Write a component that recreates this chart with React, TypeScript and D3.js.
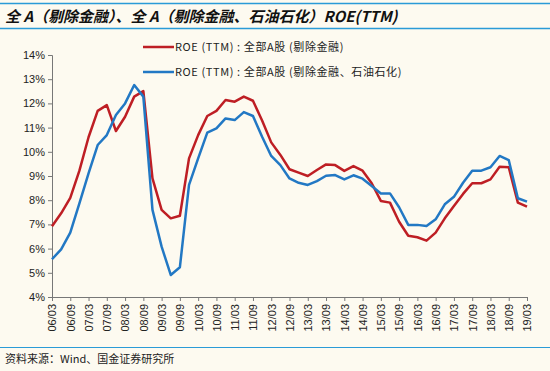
import React, { useEffect, useRef } from 'react';
import * as d3 from 'd3';

// 季度时间点 06/03 ... 19/03
const years = d3.range(6, 20);
const quarters = ['03', '06', '09', '12'];
const periods: string[] = years.flatMap(y => quarters.map(q => `${String(y).padStart(2, '0')}/${q}`)).slice(0, 53);

// 全部A股(剔除金融)
const roeExFin = [
  6.92, 7.46, 8.1, 9.22, 10.6, 11.69, 11.93, 10.86, 11.45, 12.28,
  12.51, 8.9, 7.6, 7.25, 7.36, 9.73, 10.69, 11.48, 11.69, 12.14,
  12.07, 12.28, 12.11, 11.29, 10.39, 9.87, 9.28, 9.14, 9.0, 9.25,
  9.48, 9.45, 9.21, 9.41, 9.22, 8.7, 7.97, 7.9, 7.11, 6.53,
  6.47, 6.33, 6.66, 7.25, 7.76, 8.26, 8.7, 8.7, 8.86, 9.38,
  9.36, 7.9, 7.73,
];

// 全部A股(剔除金融、石油石化)
const roeExFinPetro = [
  5.56, 5.97, 6.66, 7.87, 9.11, 10.28, 10.69, 11.52, 12.0, 12.76,
  12.28, 7.6, 6.08, 4.91, 5.23, 8.63, 9.73, 10.79, 10.97, 11.38,
  11.31, 11.64, 11.48, 10.62, 9.83, 9.45, 8.9, 8.72, 8.63, 8.79,
  9.01, 9.04, 8.86, 9.03, 8.89, 8.59, 8.28, 8.28, 7.71, 6.98,
  6.98, 6.93, 7.21, 7.83, 8.14, 8.72, 9.22, 9.22, 9.36, 9.83,
  9.66, 8.08, 7.94,
];

const yTicks = d3.range(4, 15);
const xTickLabels = periods.filter(p => p.endsWith('03') || p.endsWith('09'));

const seriesNames = ['ROE (TTM) : 全部A股 (剔除金融)', 'ROE (TTM) : 全部A股 (剔除金融、石油石化)'];
const colors = ['#BE1E24', '#2278C4'];

const W = 550;
const H = 371;
const margin = { left: 52, right: 23, top: 55, bottom: 74 };

const App = () => {
  const svgRef = useRef<SVGSVGElement>(null);

  useEffect(() => {
    const svg = d3.select(svgRef.current);
    svg.selectAll('*').remove();

    svg.append('rect').attr('width', W).attr('height', H).attr('fill', '#FDFAF0');

    // 标题
    svg.append('line').attr('x1', 0).attr('x2', W).attr('y1', 3.5).attr('y2', 3.5)
      .attr('stroke', '#2A9BD7').attr('stroke-width', 1.5);
    svg.append('line').attr('x1', 0).attr('x2', W).attr('y1', 28.5).attr('y2', 28.5)
      .attr('stroke', '#2A9BD7').attr('stroke-width', 1.5);
    svg.append('text')
      .attr('x', 5).attr('y', 21.5)
      .attr('font-family', '"Noto Sans CJK SC", sans-serif')
      .attr('font-size', 15).attr('font-weight', 'bold').attr('font-style', 'italic')
      .attr('fill', '#111')
      .text('全 A（剔除金融）、全 A（剔除金融、石油石化）ROE(TTM)');

    const x = d3.scaleLinear().domain([0, periods.length - 1]).range([margin.left, W - margin.right]);
    const y = d3.scaleLinear().domain([4, 14]).range([H - margin.bottom, margin.top]);

    const g = svg.append('g');

    // y 轴
    const yAxis = d3.axisLeft(y).tickValues(yTicks).tickFormat(d => `${d}%`).tickSize(4).tickPadding(3);
    const ya = g.append('g').attr('transform', `translate(${margin.left},0)`).call(yAxis);
    ya.selectAll('text').attr('font-size', 11).attr('font-family', '"Liberation Sans", Arial, sans-serif').attr('fill', '#222');

    // x 轴
    const xAxis = d3.axisBottom(x)
      .tickValues(xTickLabels.map(p => periods.indexOf(p)))
      .tickFormat(i => periods[+i])
      .tickSize(4);
    const xa = g.append('g').attr('transform', `translate(0,${H - margin.bottom})`).call(xAxis);
    xa.selectAll('text')
      .attr('font-size', 11).attr('font-family', '"Liberation Sans", Arial, sans-serif').attr('fill', '#222')
      .attr('transform', 'rotate(-90)')
      .attr('text-anchor', 'end')
      .attr('dy', '0.35em')
      .attr('x', -7).attr('y', 0);

    [ya, xa].forEach(a => {
      a.select('.domain').attr('stroke', '#777');
      a.selectAll('.tick line').attr('stroke', '#777');
    });

    // 折线
    const line = d3.line<number>().x((d, i) => x(i)).y(d => y(d));
    [roeExFin, roeExFinPetro].forEach((data, k) => {
      g.append('path')
        .datum(data)
        .attr('d', line)
        .attr('fill', 'none')
        .attr('stroke', colors[k])
        .attr('stroke-width', 2.5)
        .attr('stroke-linejoin', 'round');
    });

    // 图例
    const legend = svg.append('g').attr('transform', 'translate(143,47)');
    seriesNames.forEach((name, k) => {
      const row = legend.append('g').attr('transform', `translate(0,${k * 25})`);
      row.append('line').attr('x1', 0).attr('x2', 31).attr('stroke', colors[k]).attr('stroke-width', 2.5);
      row.append('text')
        .attr('x', 32).attr('dy', '0.35em')
        .attr('font-size', 11)
        .attr('letter-spacing', 0.6)
        .attr('font-family', '"Noto Sans CJK SC", sans-serif')
        .attr('fill', '#222')
        .text(name);
    });

    // 资料来源
    svg.append('line').attr('x1', 0).attr('x2', W).attr('y1', 347.5).attr('y2', 347.5)
      .attr('stroke', '#2A9BD7').attr('stroke-width', 1.2);
    svg.append('text')
      .attr('x', 5).attr('y', 363)
      .attr('font-size', 11)
      .attr('font-family', '"Noto Sans CJK SC", sans-serif')
      .attr('fill', '#222')
      .text('资料来源：Wind、国金证券研究所');
  }, []);

  return (
    <svg ref={svgRef} width={W} height={H} style={{ position: 'absolute', left: 0, top: 0 }} />
  );
};

export default App;
